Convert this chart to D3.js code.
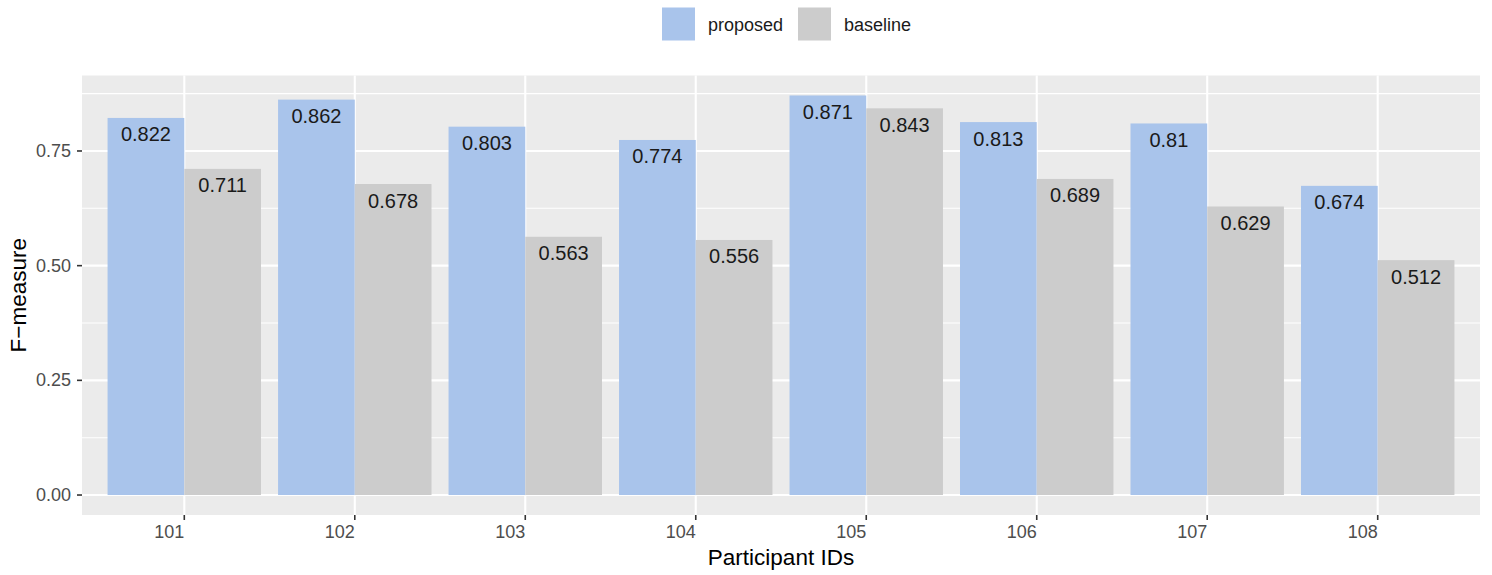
<!DOCTYPE html>
<html><head><meta charset="utf-8">
<script src="https://cdn.jsdelivr.net/npm/d3@7"></script>
<style>body{margin:0;background:#fff}svg{display:block}</style>
</head><body>
<script>
const categories = ["101","102","103","104","105","106","107","108"];
const seriesNames = ["proposed","baseline"];
const proposed = [0.822,0.862,0.803,0.774,0.871,0.813,0.81,0.674];
const baseline = [0.711,0.678,0.563,0.556,0.843,0.689,0.629,0.512];
const yTicks = [0,0.25,0.5,0.75];
const yMinor = [0.125,0.375,0.625,0.875];
const colors = {proposed:"#A9C4EB", baseline:"#CCCCCC"};

const W=1492,H=575;
const L=82,R=1480,T=75.5,B=515;
const svg=d3.select("body").append("svg").attr("width",W).attr("height",H);
const font="'Liberation Sans', Arial, Helvetica, sans-serif";

const ymax=d3.max(proposed.concat(baseline));
const y=d3.scaleLinear().domain([-ymax*0.05, ymax*1.05]).range([B,T]);
const step=(R-L)/(categories.length-1+1.2);
const xc=d3.scalePoint().domain(categories).range([L+0.6*step,R-0.6*step]);
const bw=0.9*step;
const xs=d3.scaleBand().domain(seriesNames).range([-bw/2,bw/2]);

svg.append("rect").attr("x",L).attr("y",T).attr("width",R-L).attr("height",B-T).attr("fill","#EBEBEB");
svg.selectAll(".ymin").data(yMinor.filter(v=>y(v)>T)).enter().append("line")
 .attr("x1",L).attr("x2",R).attr("y1",d=>y(d)).attr("y2",d=>y(d)).attr("stroke","#fff").attr("stroke-width",1.1);
svg.selectAll(".ymaj").data(yTicks).enter().append("line")
 .attr("x1",L).attr("x2",R).attr("y1",d=>y(d)).attr("y2",d=>y(d)).attr("stroke","#fff").attr("stroke-width",2.1);
svg.selectAll(".xmaj").data(categories).enter().append("line")
 .attr("x1",d=>xc(d)).attr("x2",d=>xc(d)).attr("y1",T).attr("y2",B).attr("stroke","#fff").attr("stroke-width",2.1);

const data=[];
categories.forEach((c,i)=>{data.push({c,s:"proposed",v:proposed[i]});data.push({c,s:"baseline",v:baseline[i]});});
svg.selectAll(".bar").data(data).enter().append("rect")
 .attr("x",d=>xc(d.c)+xs(d.s)).attr("width",xs.bandwidth())
 .attr("y",d=>y(d.v)).attr("height",d=>y(0)-y(d.v)).attr("fill",d=>colors[d.s]);
svg.selectAll(".lab").data(data).enter().append("text")
 .attr("x",d=>xc(d.c)+xs(d.s)+xs.bandwidth()/2).attr("y",d=>y(d.v)+16.5)
 .attr("text-anchor","middle").attr("dominant-baseline","central")
 .attr("font-family",font).attr("font-size",20).attr("fill","#1a1a1a").text(d=>String(d.v));

// y axis
const ya=svg.append("g");
yTicks.forEach(v=>{
 ya.append("line").attr("x1",L-5).attr("x2",L).attr("y1",y(v)).attr("y2",y(v)).attr("stroke","#333").attr("stroke-width",1.6);
 ya.append("text").attr("x",L-11).attr("y",y(v)).attr("text-anchor","end").attr("dominant-baseline","central")
  .attr("font-family",font).attr("font-size",18).attr("fill","#4D4D4D").text(d3.format(".2f")(v));
});
const xa=svg.append("g");
categories.forEach(c=>{
 xa.append("line").attr("x1",xc(c)).attr("x2",xc(c)).attr("y1",B).attr("y2",B+5).attr("stroke","#333").attr("stroke-width",1.6);
 xa.append("text").attr("x",xc(c)).attr("y",B+17).attr("text-anchor","end").attr("dominant-baseline","central")
  .attr("font-family",font).attr("font-size",18).attr("fill","#4D4D4D").text(c);
});
svg.append("text").attr("x",(L+R)/2).attr("y",557).attr("text-anchor","middle").attr("dominant-baseline","central")
 .attr("font-family",font).attr("font-size",22.5).attr("fill","#000").text("Participant IDs");
svg.append("text").attr("transform",`translate(18,${(T+B)/2}) rotate(-90)`).attr("text-anchor","middle").attr("dominant-baseline","central")
 .attr("font-family",font).attr("font-size",22.5).attr("fill","#000").text("F\u2212measure");

// legend
const leg=[{s:"proposed",kx:662,tx:708},{s:"baseline",kx:798,tx:844}];
leg.forEach(l=>{
 svg.append("rect").attr("x",l.kx).attr("y",7.5).attr("width",33).attr("height",33).attr("fill",colors[l.s]);
 svg.append("text").attr("x",l.tx).attr("y",24.5).attr("dominant-baseline","central")
  .attr("font-family",font).attr("font-size",18).attr("fill","#1a1a1a").text(l.s);
});
</script>
</body></html>
